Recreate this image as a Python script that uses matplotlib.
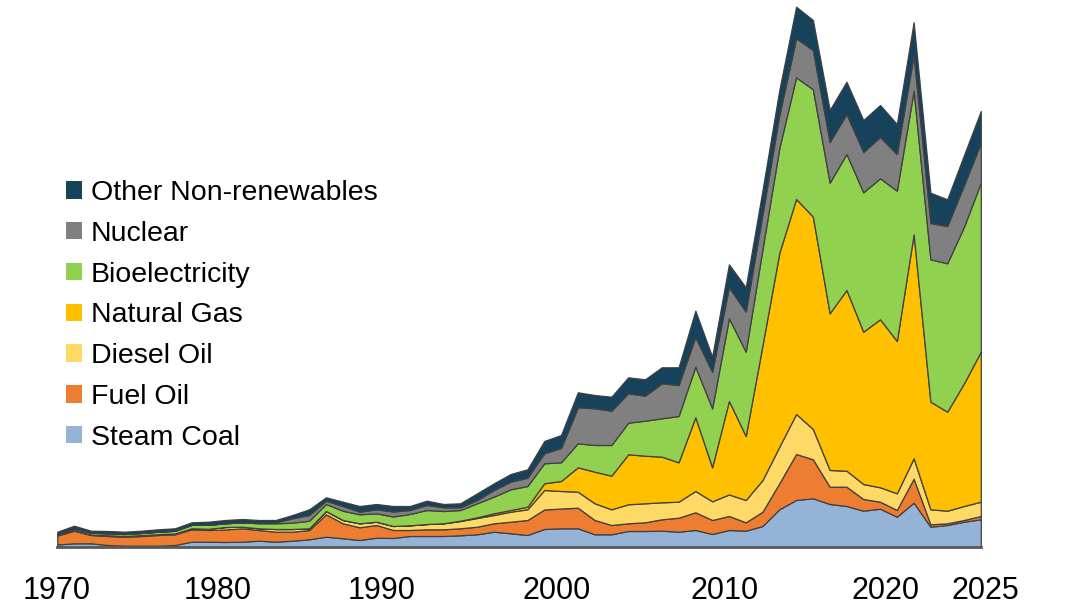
import matplotlib
matplotlib.use("Agg")
import matplotlib.pyplot as plt
from matplotlib.patches import Patch
from matplotlib.transforms import ScaledTranslation

# Years 1970-2025
years = list(range(1970, 2026))

# Generation by source (arbitrary units proportional to TWh)
steam_coal = [2.5, 3.7, 3.7, 2.0, 1.3, 1.3, 1.3, 2.0, 5.3, 5.3,
              5.0, 5.3, 6.3, 5.3, 6.3, 7.7, 10.3, 8.7, 7.0, 9.3,
              9.0, 11.0, 11.0, 11.0, 11.7, 12.7, 15.3, 13.7, 12.0, 18.0,
              18.7, 18.7, 12.7, 12.7, 16.0, 16.0, 16.3, 15.3, 17.0, 13.0,
              17.0, 16.3, 21.0, 37.7, 47.0, 48.7, 43.0, 41.0, 36.3, 38.3,
              30.3, 44.3, 20.3, 22.0, 25.3, 27.7]
fuel_oil = [9.0, 12.6, 8.3, 9.0, 9.0, 9.7, 10.7, 10.7, 12.4, 11.7,
            12.5, 13.4, 10.7, 10.0, 9.0, 9.3, 22.4, 15.0, 12.7, 12.7,
            8.0, 6.0, 6.7, 6.7, 7.0, 7.6, 8.4, 11.6, 15.0, 19.5,
            19.8, 20.6, 14.3, 9.3, 7.7, 8.7, 11.4, 14.0, 17.7, 14.0,
            14.0, 8.4, 14.3, 26.0, 46.0, 39.0, 17.3, 19.3, 11.7, 7.0,
            6.7, 24.0, 2.4, 1.7, 1.7, 3.3]
diesel_oil = [0.5, 0.5, 0.5, 0.7, 0.7, 0.8, 0.8, 0.8, 1.0, 1.2,
              2.5, 1.6, 1.7, 2.7, 2.7, 1.7, 3.3, 3.3, 4.0, 3.3,
              4.0, 4.7, 5.3, 6.0, 7.3, 8.7, 8.3, 10.0, 10.7, 19.5,
              17.5, 16.0, 16.7, 15.7, 19.0, 19.0, 17.0, 16.0, 21.3, 18.7,
              21.5, 22.3, 31.7, 36.6, 40.0, 30.3, 16.7, 16.0, 15.0, 14.4,
              16.7, 20.4, 15.0, 12.6, 14.0, 14.3]
natural_gas = [0, 0, 0, 0, 0, 0, 0, 0, 0, 0,
               0, 0, 0, 0, 0, 0, 0, 0, 0, 0,
               0, 0, 0, 0, 0.3, 0.7, 1.7, 1.7, 2.6, 6.7,
               10.0, 24.4, 31.6, 33.6, 50.0, 47.6, 45.6, 39.4, 73.7, 34.0,
               93.5, 64.0, 135.0, 193.7, 215.0, 212.3, 156.7, 180.7, 152.3, 168.0,
               152.3, 224.0, 107.6, 99.0, 122.7, 150.0]
bioelectricity = [1.0, 1.5, 1.8, 2.0, 2.0, 2.2, 2.5, 2.7, 3.5, 4.0,
                  3.7, 4.4, 5.0, 5.7, 6.3, 7.6, 7.0, 9.3, 9.0, 8.4,
                  9.5, 11.3, 14.0, 12.3, 10.7, 14.0, 16.6, 20.7, 20.7, 20.0,
                  18.7, 24.0, 26.7, 30.7, 31.6, 35.0, 38.4, 46.3, 50.6, 59.0,
                  82.7, 84.3, 96.0, 105.0, 121.7, 127.4, 130.6, 136.0, 139.4, 141.0,
                  150.3, 143.6, 142.4, 148.4, 156.6, 169.0]
nuclear = [0, 0, 0, 0, 0, 0, 0, 0, 0, 0,
           0, 0, 0.5, 1.0, 4.4, 5.7, 3.3, 4.7, 2.6, 4.0,
           5.0, 4.0, 5.0, 3.7, 2.7, 3.3, 6.7, 7.6, 8.3, 10.0,
           14.3, 36.0, 36.7, 34.3, 29.4, 25.0, 35.0, 31.0, 29.7, 36.3,
           31.3, 40.0, 35.0, 33.0, 39.0, 39.3, 40.7, 40.0, 40.3, 41.3,
           36.7, 35.7, 36.3, 37.3, 41.7, 39.7]
other_nonrenewables = [2.3, 3.0, 2.0, 2.3, 2.3, 2.3, 2.4, 2.5, 2.5, 3.1,
                       3.3, 3.3, 2.8, 2.3, 3.3, 5.7, 3.4, 4.3, 5.7, 5.3,
                       5.5, 4.0, 4.3, 3.3, 4.0, 6.7, 6.7, 7.7, 8.4, 12.3,
                       13.0, 15.0, 13.3, 14.0, 16.0, 16.4, 16.0, 17.7, 26.3, 15.3,
                       22.7, 24.4, 24.0, 25.0, 31.6, 30.0, 32.0, 32.3, 32.0, 32.0,
                       30.0, 32.7, 30.3, 26.7, 30.0, 32.0]

series_names = ["Steam Coal", "Fuel Oil", "Diesel Oil", "Natural Gas",
                "Bioelectricity", "Nuclear", "Other Non-renewables"]
series_colors = ["#95B3D7", "#ED7D31", "#FFD966", "#FFC000",
                 "#92D050", "#808080", "#16425B"]
tick_years = [1970, 1980, 1990, 2000, 2010, 2020, 2025]
# small horizontal nudges (pixels) matching where the labels sit in the original
tick_label_shift_px = [-1, -8, -12, -4, -4.5, -11, 5]

series = [steam_coal, fuel_oil, diesel_oil, natural_gas,
          bioelectricity, nuclear, other_nonrenewables]

plt.rcParams['font.family'] = ['Liberation Sans', 'DejaVu Sans']

fig = plt.figure(figsize=(10.66, 6.08), dpi=100)
ax = fig.add_axes([57.3 / 1066, 61 / 608, (980.8 - 57.3) / 1066, 547 / 608])

base = [0.0] * len(years)
for vals, color in zip(series, series_colors):
    top = [b + v for b, v in zip(base, vals)]
    ax.fill_between(years, base, top, facecolor=color, edgecolor="#404040",
                    linewidth=0.9, zorder=2)
    base = top

ax.set_xlim(1970, 2025)
ax.set_ylim(0, 547)
for s in ["top", "left", "right"]:
    ax.spines[s].set_visible(False)
ax.spines["bottom"].set_color("#595959")
ax.spines["bottom"].set_linewidth(2)
ax.spines["bottom"].set_zorder(5)
ax.set_yticks([])
ax.set_xticks(tick_years)
ax.set_xticklabels([str(y) for y in tick_years])
ax.tick_params(axis="x", length=0, pad=21, labelsize=22, colors="black")
for lab, dx in zip(ax.get_xticklabels(), tick_label_shift_px):
    lab.set_transform(lab.get_transform() +
                      ScaledTranslation(dx / 100, 0, fig.dpi_scale_trans))

handles = [Patch(facecolor=c, edgecolor="none", label=n)
           for n, c in zip(series_names, series_colors)][::-1]
leg = ax.legend(handles=handles, loc="upper left",
                bbox_to_anchor=((66 - 57.3) / 923.5, (547 - 180) / 547),
                frameon=False, fontsize=20.5, handlelength=0.56,
                handleheight=0.56, handletextpad=0.32, labelspacing=0.52,
                borderaxespad=0, borderpad=0)

fig.savefig("out.png", dpi=100)
